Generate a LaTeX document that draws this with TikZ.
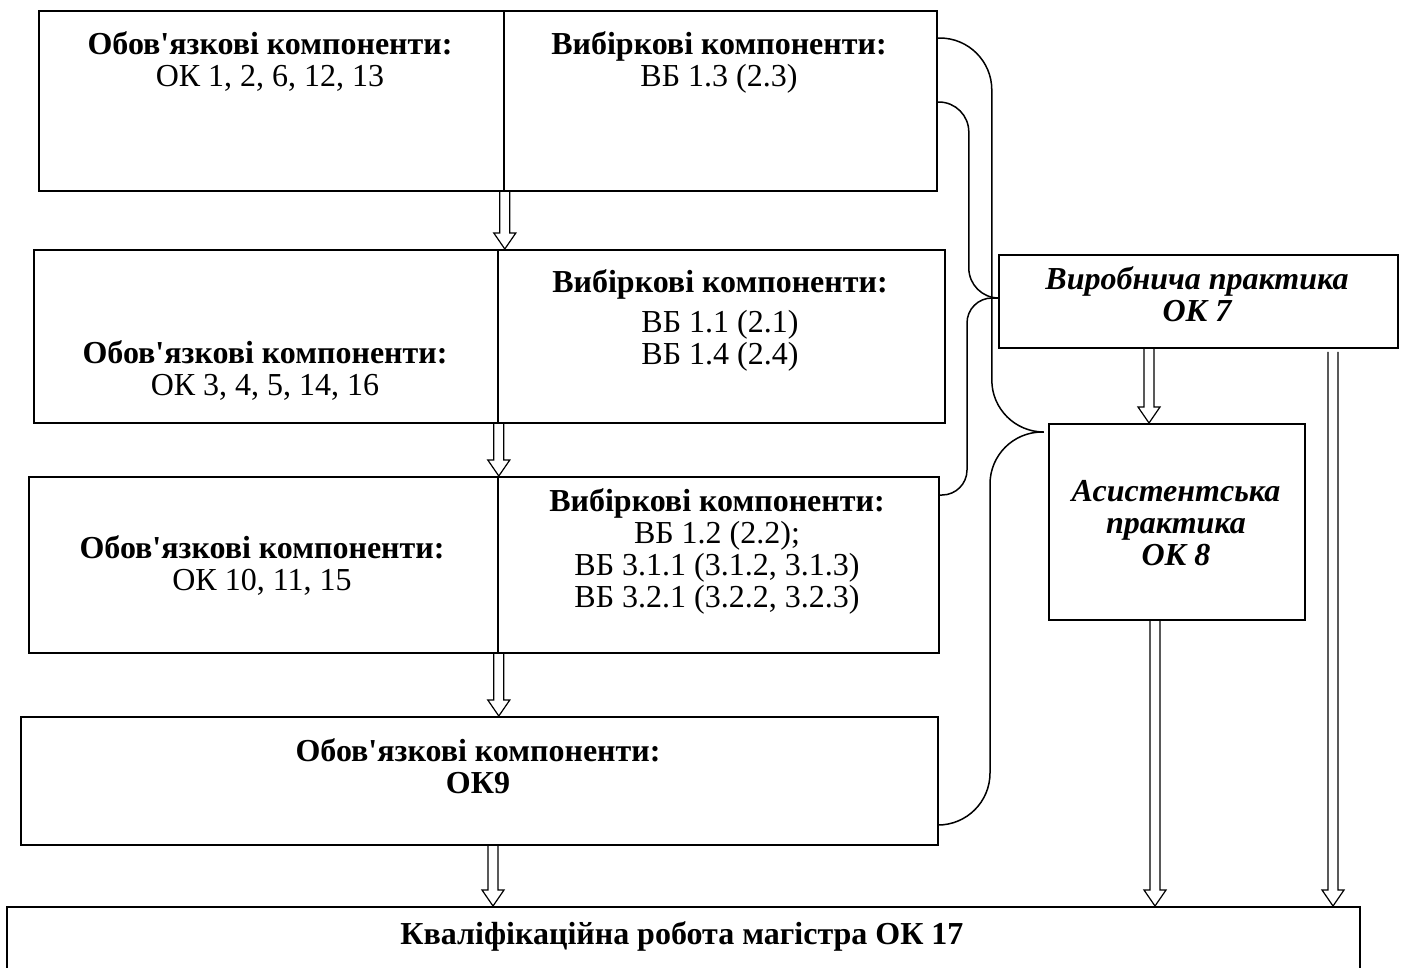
\documentclass[tikz,border=0pt]{standalone}
\usepackage{fontspec}
\setmainfont{Liberation Serif}[Ligatures=TeXOff]
\usetikzlibrary{calc}
\tikzset{
  box/.style={draw, line width=1.8pt, inner sep=0pt, anchor=north west},
  txt/.style={font=\fontsize{32}{32}\selectfont, align=center, inner sep=0pt},
  brace/.style={draw, line width=1.5pt},
  hollow/.style={draw, line width=1.2pt, line join=miter,
    to path={let \p1=(\tikztostart), \p2=(\tikztotarget) in
      (\x1-5pt,\y1) -- (\x1-5pt,\y2+16pt) -- (\x1-11pt,\y2+16pt) -- (\x1,\y2)
      -- (\x1+11pt,\y2+16pt) -- (\x1+5pt,\y2+16pt) -- (\x1+5pt,\y1)}}
}
\begin{document}
\begin{tikzpicture}[x=1pt,y=-1pt]
\useasboundingbox (0,0) rectangle (1402,967);
% boxes
\node[box, minimum width=465pt, minimum height=180pt] (r1l) at (38,10) {};
\node[box, minimum width=433pt, minimum height=180pt] (r1r) at (503,10) {};
\node[box, minimum width=464pt, minimum height=173pt] (r2l) at (33,249) {};
\node[box, minimum width=447pt, minimum height=173pt] (r2r) at (497,249) {};
\node[box, minimum width=469pt, minimum height=176pt] (r3l) at (28,476) {};
\node[box, minimum width=441pt, minimum height=176pt] (r3r) at (497,476) {};
\node[box, minimum width=917pt, minimum height=128pt] (r4) at (20,716) {};
\node[box, minimum width=1353pt, minimum height=90pt] (bot) at (6,906) {};
\node[box, minimum width=399pt, minimum height=93pt] (vyr) at (998,254) {};
\node[box, minimum width=256pt, minimum height=196pt] (asy) at (1048,423) {};
% texts
\node[txt] (t1l) at (270,62) {\textbf{Обов'язкові компоненти:}\\ОК 1, 2, 6, 12, 13};
\node[txt] (t1r) at (719,62) {\textbf{Вибіркові компоненти:}\\ВБ 1.3 (2.3)};
\node[txt] (t2l) at (265,370) {\textbf{Обов'язкові компоненти:}\\ОК 3, 4, 5, 14, 16};
\node[txt] (t2r) at (720,320) {\textbf{Вибіркові компоненти:}\\[8pt]ВБ 1.1 (2.1)\\ВБ 1.4 (2.4)};
\node[txt] (t3l) at (262,565) {\textbf{Обов'язкові компоненти:}\\ОК 10, 11, 15};
\node[txt] (t3r) at (717,551) {\textbf{Вибіркові компоненти:}\\ВБ 1.2 (2.2);\\ВБ 3.1.1 (3.1.2, 3.1.3)\\ВБ 3.2.1 (3.2.2, 3.2.3)};
\node[txt, font=\fontsize{32}{32}\selectfont\bfseries] (t4) at (478,766) {Обов'язкові компоненти:\\ОК9};
\node[txt, font=\fontsize{32}{32}\selectfont\bfseries\itshape] (tv) at (1197,294) {Виробнича практика\\ОК 7};
\node[txt, font=\fontsize{32}{32}\selectfont\bfseries\itshape] (ta) at (1176,523) {Асистентська\\практика\\ОК 8};
\node[txt, font=\fontsize{32}{32}\selectfont\bfseries] (tb) at (682,936) {Кваліфікаційна робота магістра ОК 17};
% braces
\draw[brace, rounded corners=30pt] ([yshift=-92pt]r1r.north east) -- ++(31,0) |- ([yshift=-44pt]vyr.north west);
\draw[brace, rounded corners=25pt] ([yshift=-44pt]vyr.north west) -- ++(-31,0) |- ([yshift=-19pt]r3r.north east);
\draw[brace, rounded corners=52pt] ([yshift=-28pt]r1r.north east) -- ++(54,0) |- ([xshift=-6pt,yshift=-9pt]asy.north west);
\draw[brace, rounded corners=52pt] ([xshift=-6pt,yshift=-9pt]asy.north west) -- ++(-52,0) |- ([yshift=-109pt]r4.north east);
% arrows
\draw[hollow] (r1l.south east) to (r2l.north east);
\draw[hollow] (r2l.south east) to (r3l.north east);
\draw[hollow] (r3l.south east) to (r4.north west -| r3l.north east);
\draw[hollow] ([xshift=473pt]r4.south west) to (bot.north west);
\draw[hollow] ([xshift=151pt]vyr.south west) to (asy.north west);
\draw[hollow] ([xshift=107pt]asy.south west) to (bot.north west);
\draw[hollow] ([xshift=335pt,yshift=-3pt]vyr.south west) to (bot.north west);
\end{tikzpicture}
\end{document}
